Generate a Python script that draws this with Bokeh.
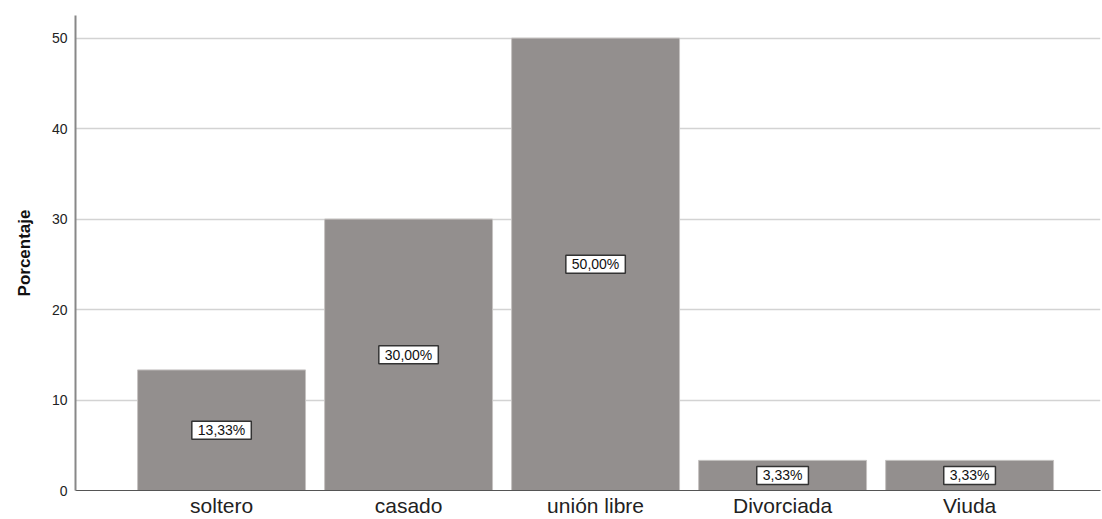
from bokeh.plotting import figure
from bokeh.models import Range1d, FixedTicker, ColumnDataSource
from bokeh.core.properties import value
from bokeh.embed import file_html
from bokeh.resources import INLINE

categories = ["soltero", "casado", "unión libre", "Divorciada", "Viuda"]
percentages = [13.33, 30.00, 50.00, 3.33, 3.33]
value_labels = ["13,33%", "30,00%", "50,00%", "3,33%", "3,33%"]
y_ticks = [0, 10, 20, 30, 40, 50]

x = list(range(len(categories)))
src = ColumnDataSource(dict(x=x, top=percentages,
                            mid=[v / 2 for v in percentages],
                            lab=value_labels))

p = figure(width=1102, height=519, output_backend="svg", toolbar_location=None,
           x_range=Range1d(-0.781, 4.70), y_range=Range1d(0, 52.5),
           min_border_left=75, min_border_top=15, min_border_right=2,
           min_border_bottom=28)
p.outline_line_color = None
p.background_fill_color = "white"
p.border_fill_color = "white"

p.vbar(x="x", top="top", bottom=0, width=0.898, source=src,
       fill_color="#938F8E", line_color="#C6C3C2", line_width=1)

p.text(x="x", y="mid", text="lab", source=src,
       text_align="center", text_baseline="middle",
       text_font=value("Liberation Sans"), text_font_size="14px",
       text_color="#111111",
       background_fill_color="white",
       border_line_color="#333333", border_line_width=1.5,
       padding=dict(left=6, right=6, top=1, bottom=1))

# x axis
p.xaxis.ticker = FixedTicker(ticks=x)
p.xaxis.major_label_overrides = {i: c for i, c in zip(x, categories)}
p.xaxis.major_tick_line_color = None
p.xaxis.major_tick_out = 0
p.xaxis.major_tick_in = 0
p.xaxis.minor_tick_line_color = None
p.xaxis.axis_line_color = "#555555"
p.xaxis.axis_line_width = 1
p.xaxis.major_label_text_font = "Liberation Sans"
p.xaxis.major_label_text_font_size = "21px"
p.xaxis.major_label_text_color = "#222222"
p.xaxis.major_label_standoff = 3

# y axis
p.yaxis.ticker = FixedTicker(ticks=y_ticks)
p.yaxis.major_tick_line_color = None
p.yaxis.major_tick_out = 0
p.yaxis.major_tick_in = 0
p.yaxis.minor_tick_line_color = None
p.yaxis.axis_line_color = "#888888"
p.yaxis.axis_line_width = 2
p.yaxis.major_label_text_font = "Liberation Sans"
p.yaxis.major_label_text_font_size = "14px"
p.yaxis.major_label_text_color = "#222222"
p.yaxis.major_label_standoff = 8
p.yaxis.axis_label = "Porcentaje"
p.yaxis.axis_label_text_font = "Liberation Sans"
p.yaxis.axis_label_text_font_style = "bold"
p.yaxis.axis_label_text_font_size = "17px"
p.yaxis.axis_label_text_color = "#111111"
p.yaxis.axis_label_standoff = 15

p.xgrid.grid_line_color = None
p.ygrid.ticker = FixedTicker(ticks=y_ticks[1:])
p.ygrid.grid_line_color = "#D3D3D3"
p.ygrid.grid_line_width = 1.5

open("out.html", "w").write(file_html(p, INLINE))
